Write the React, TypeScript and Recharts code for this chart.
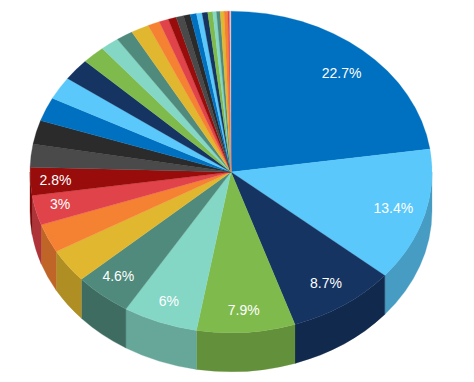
import { Pie, PieChart } from "recharts";

const segmentValues = [
  22.7, 13.4, 8.7, 7.9, 6, 4.6, 3.4, 2.9, 3, 2.8, 2.3, 2.4, 2.4, 2.3, 2.2, 1.85,
  1.5, 1.35, 1.45, 0.95, 0.75, 0.65, 0.6, 0.55, 0.5, 0.45, 0.45, 0.4, 0.3, 0.3, 0.3, 0.3, 0.15, 0.1,
];

// repeats after the first 12 colours, like the original palette
const palette = [
  "#0070c0", "#5ac8fa", "#153462", "#7fba4c", "#84d6c5", "#4f8a7c",
  "#e0b72e", "#f58233", "#e0434a", "#980d0b", "#4a4a4a", "#2b2b2b",
];
const lastColor = "#d9c7c7";

const data = segmentValues.map((value, i) => ({
  name: `S${i + 1}`,
  value,
  fill: i === segmentValues.length - 1 ? lastColor : palette[i % palette.length],
}));

const shownLabels = [22.7, 13.4, 8.7, 7.9, 6, 4.6, 3, 2.8];

const Y_SQUASH = 0.8;
const DEPTH = 39;
const RAD = Math.PI / 180;

const darken = (hex: string, k = 0.78) => {
  const n = parseInt(hex.slice(1), 16);
  const c = [(n >> 16) & 255, (n >> 8) & 255, n & 255].map((v) => Math.round(v * k));
  return `rgb(${c[0]},${c[1]},${c[2]})`;
};

// top face of a slice, the pie is tilted so the circle becomes an ellipse
const TopSlice = (props: any) => {
  const { cx, cy, outerRadius, startAngle, endAngle, fill } = props;
  const rx = outerRadius;
  const ry = outerRadius * Y_SQUASH;
  const x0 = cx + rx * Math.cos(-startAngle * RAD);
  const y0 = cy + ry * Math.sin(-startAngle * RAD);
  const x1 = cx + rx * Math.cos(-endAngle * RAD);
  const y1 = cy + ry * Math.sin(-endAngle * RAD);
  const large = Math.abs(startAngle - endAngle) > 180 ? 1 : 0;
  return (
    <path
      d={`M${cx},${cy}L${x0},${y0}A${rx},${ry} 0 ${large} 1 ${x1},${y1}Z`}
      fill={fill}
      stroke={fill}
      strokeWidth={0.3}
    />
  );
};

// side wall, only for the part of the rim facing the viewer
const WallSlice = (props: any) => {
  const { cx, cy, outerRadius, startAngle, endAngle, fill } = props;
  const rx = outerRadius;
  const ry = outerRadius * Y_SQUASH;
  const a = Math.max(-startAngle, 0);
  const b = Math.min(-endAngle, 180);
  if (a >= b) return null;
  const x0 = cx + rx * Math.cos(a * RAD);
  const y0 = cy + ry * Math.sin(a * RAD);
  const x1 = cx + rx * Math.cos(b * RAD);
  const y1 = cy + ry * Math.sin(b * RAD);
  return (
    <path
      d={`M${x0},${y0}A${rx},${ry} 0 0 1 ${x1},${y1}L${x1},${y1 + DEPTH}A${rx},${ry} 0 0 0 ${x0},${y0 + DEPTH}Z`}
      fill={darken(fill)}
      stroke={darken(fill)}
      strokeWidth={0.3}
    />
  );
};

const renderLabel = (props: any) => {
  const { cx, cy, midAngle, outerRadius, value } = props;
  if (!shownLabels.includes(value)) return null;
  const cos = Math.cos(-midAngle * RAD);
  const sin = Math.sin(-midAngle * RAD);
  // perspective pushes the labels on the near left side outward
  const xFactor = cos < -0.3 ? 0.875 : 0.84;
  let yOffset = 3;
  if (cos > 0.5 && sin > 0) yOffset = -1;
  if (cos < -0.5) yOffset = 0;
  return (
    <text
      x={cx + outerRadius * xFactor * cos}
      y={cy + yOffset + outerRadius * Y_SQUASH * 0.84 * sin}
      fill="#ffffff"
      fontSize={14}
      fontFamily="'Liberation Sans', Arial, sans-serif"
      textAnchor="middle"
      dominantBaseline="central"
    >
      {`${value}%`}
    </text>
  );
};

export default function App() {
  return (
    <div style={{ position: "absolute", left: 0, top: 0, width: 474, height: 382, background: "#fff" }}>
      <PieChart width={474} height={382} margin={{ top: 0, right: 0, bottom: 0, left: 0 }}>
        <Pie data={data} dataKey="value" cx={231} cy={172} outerRadius={201} startAngle={90} endAngle={-270} stroke="none" shape={WallSlice} isAnimationActive={false} />
        <Pie data={data} dataKey="value" cx={231} cy={172} outerRadius={201} startAngle={90} endAngle={-270} stroke="none" shape={TopSlice} label={renderLabel} labelLine={false} isAnimationActive={false} />
      </PieChart>
    </div>
  );
}
